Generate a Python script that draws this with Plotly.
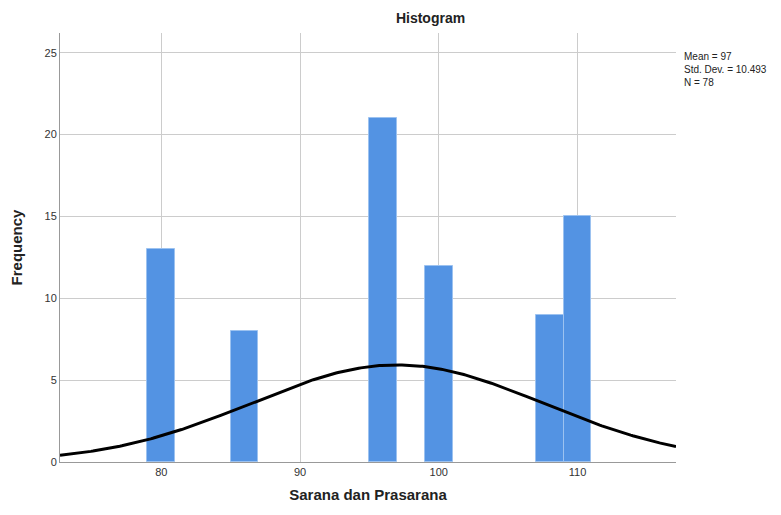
import numpy as np
import plotly.graph_objects as go

# Data (bin centers, bin width 2)
bin_centers = [80, 86, 96, 100, 108, 110]
frequencies = [13, 8, 21, 12, 9, 15]
bin_width = 2
stat_mean = 97
stat_sd = 10.493
stat_n = 78
x_ticks = [80, 90, 100, 110]
y_ticks = [0, 5, 10, 15, 20, 25]

x_range = [72.7, 117.1]
y_range = [0, 26.2]

xs = np.linspace(x_range[0], x_range[1], 300)
ys = stat_n * bin_width * np.exp(-0.5 * ((xs - stat_mean) / stat_sd) ** 2) / (stat_sd * np.sqrt(2 * np.pi))

fig = go.Figure()
fig.add_trace(go.Bar(
    x=bin_centers, y=frequencies, width=bin_width,
    marker=dict(color="#5393e3", line=dict(color="#9cc2f0", width=1)),
    showlegend=False, hoverinfo="x+y",
))
fig.add_trace(go.Scatter(
    x=xs, y=ys, mode="lines", line=dict(color="black", width=3),
    showlegend=False, hoverinfo="skip",
))

font_family = "Liberation Sans, Arial, sans-serif"
fig.update_layout(
    width=781, height=515,
    margin=dict(l=52, r=113, t=25, b=61, autoexpand=False),
    paper_bgcolor="white", plot_bgcolor="white",
    font=dict(family=font_family, color="#222222", size=11),
    title=dict(text="<b>Histogram</b>", x=0.541, xanchor="center", y=0.980, yanchor="middle",
               font=dict(size=14, color="#222222", family=font_family)),
    bargap=0,
    xaxis=dict(
        range=x_range, tickvals=x_ticks, showgrid=True, gridcolor="#cccccc", gridwidth=1,
        showline=True, linecolor="#999999", linewidth=1, zeroline=False,
        ticks="", tickfont=dict(size=11, color="#333333"), automargin=False,
        title=dict(text="<b>Sarana dan Prasarana</b>", font=dict(size=15, color="#222222"), standoff=12),
    ),
    yaxis=dict(
        range=y_range, tickvals=y_ticks, showgrid=True, gridcolor="#cccccc", gridwidth=1,
        showline=True, linecolor="#999999", linewidth=1, zeroline=False,
        ticks="", tickfont=dict(size=11, color="#333333"), automargin=False,
        title=dict(text="<b>Frequency</b>", font=dict(size=15, color="#222222"), standoff=18),
    ),
    annotations=[dict(
        text=f"Mean = {stat_mean}<br>Std. Dev. = {stat_sd}<br>N = {stat_n}",
        xref="paper", yref="paper", x=1.01, y=0.962, xanchor="left", yanchor="top",
        align="left", showarrow=False, font=dict(size=10, color="#222222"),
    )],
)

fig.write_html("out.html")
